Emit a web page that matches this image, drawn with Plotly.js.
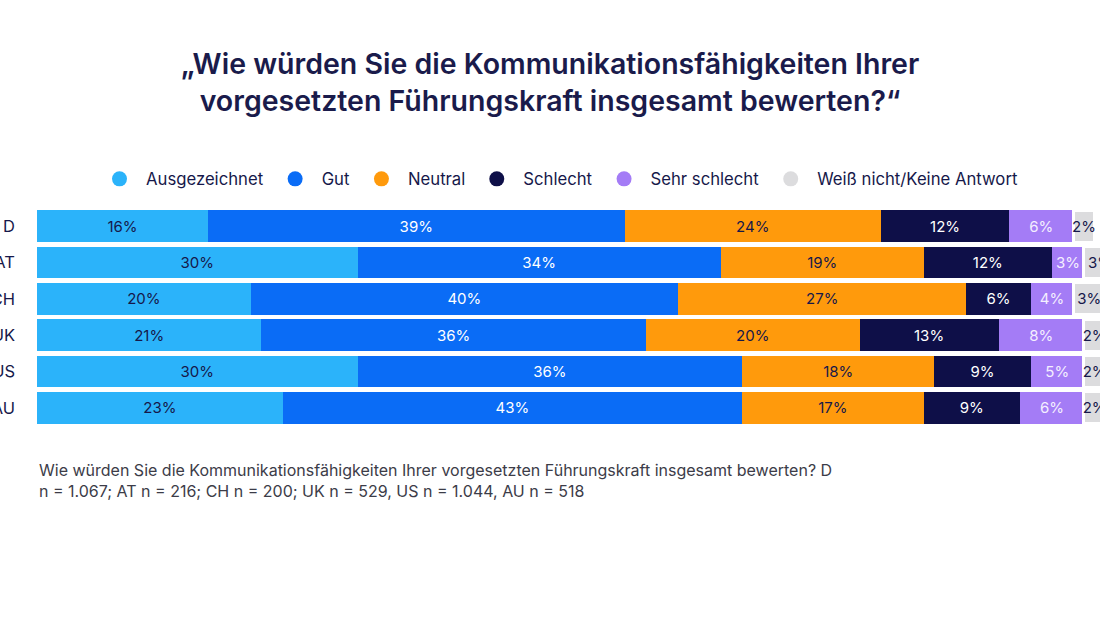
<!DOCTYPE html>
<html>
<head>
<meta charset="utf-8">
<script src="https://cdn.plot.ly/plotly-3.0.1.min.js"></script>
<style>
  html, body { margin: 0; padding: 0; background: #ffffff; }
  #chart { width: 1100px; height: 618px; }
</style>
</head>
<body>
<div id="chart"></div>
<script>
// Länder (von oben nach unten)
const countries = ["D", "AT", "CH", "UK", "US", "AU"];

// Antwortkategorien und Farben
const categories = ["Ausgezeichnet", "Gut", "Neutral", "Schlecht", "Sehr schlecht", "Weiß nicht/Keine Antwort"];
const colors = ["#2bb3fa", "#0a6cf6", "#ff9a0c", "#0e0f48", "#a47cf6", "#dcdcde"];
const textColors = ["#16184a", "#ffffff", "#16184a", "#ffffff", "#f4efff", "#16184a"];

// Anteile in Prozent je Land
const ausgezeichnet = [16, 30, 20, 21, 30, 23];
const gut           = [39, 34, 40, 36, 36, 43];
const neutral       = [24, 19, 27, 20, 18, 17];
const schlecht      = [12, 12, 6, 13, 9, 9];
const sehrSchlecht  = [6, 3, 4, 8, 5, 6];
const weissNicht    = [2, 3, 3, 2, 2, 2];

const series = [ausgezeichnet, gut, neutral, schlecht, sehrSchlecht, weissNicht];

const titleText = "„Wie würden Sie die Kommunikationsfähigkeiten Ihrer<br>vorgesetzten Führungskraft insgesamt bewerten?“";
const noteText = "Wie würden Sie die Kommunikationsfähigkeiten Ihrer vorgesetzten Führungskraft insgesamt bewerten? D<br>n = 1.067; AT n = 216; CH n = 200; UK n = 529, US n = 1.044, AU n = 518";

const FONT = "Inter, 'Noto Sans', sans-serif";

const traces = [];

// Gestapelte Balken
series.forEach((vals, i) => {
  traces.push({
    type: "bar",
    orientation: "h",
    name: categories[i],
    y: countries,
    x: vals,
    text: vals.map(v => v + "%"),
    textposition: "inside",
    insidetextanchor: "middle",
    textangle: 0,
    constraintext: "none",
    textfont: { family: FONT, size: 15, color: textColors[i] },
    marker: {
      color: colors[i],
      line: { color: "#ffffff", width: i === 5 ? 3 : 0 }
    },
    showlegend: false,
    hoverinfo: "skip"
  });
});

// Legendeneinträge mit runden Symbolen
categories.forEach((name, i) => {
  traces.push({
    type: "scatter",
    mode: "markers",
    name: name,
    x: [null],
    y: [null],
    marker: { symbol: "circle", size: 15, color: colors[i] },
    showlegend: true,
    hoverinfo: "skip"
  });
});

const layout = {
  width: 1100,
  height: 618,
  paper_bgcolor: "#ffffff",
  plot_bgcolor: "#ffffff",
  margin: { l: 37, r: 0, t: 208, b: 192 },
  barmode: "stack",
  bargap: 0.12,
  font: { family: FONT, color: "#16184a" },
  title: {
    text: titleText,
    x: 0.5,
    xref: "container",
    xanchor: "center",
    y: 1 - 74 / 618,
    yref: "container",
    yanchor: "top",
    font: { family: FONT, size: 28.5, weight: 600, color: "#1a1b4b" }
  },
  xaxis: {
    range: [0, 99.5],
    showgrid: false,
    zeroline: false,
    showticklabels: false,
    ticks: "",
    fixedrange: true
  },
  yaxis: {
    type: "category",
    autorange: "reversed",
    showgrid: false,
    zeroline: false,
    ticks: "",
    ticklabelstandoff: 21,
    tickfont: { family: FONT, size: 16.5, color: "#16184a" },
    fixedrange: true
  },
  legend: {
    orientation: "h",
    x: (93 - 37) / 1063,
    xanchor: "left",
    y: 1 + 29 / 218,
    yanchor: "middle",
    font: { family: FONT, size: 16.7, color: "#16184a" },
    itemwidth: 43,
    bgcolor: "rgba(0,0,0,0)",
    traceorder: "normal"
  },
  annotations: [
    {
      text: noteText,
      xref: "paper",
      yref: "paper",
      x: 0,
      y: -(458 - 426) / 218,
      xanchor: "left",
      yanchor: "top",
      align: "left",
      showarrow: false,
      font: { family: FONT, size: 16, color: "#3c3c48" }
    }
  ]
};

Plotly.newPlot("chart", traces, layout, { displayModeBar: false, staticPlot: true });
</script>
</body>
</html>
